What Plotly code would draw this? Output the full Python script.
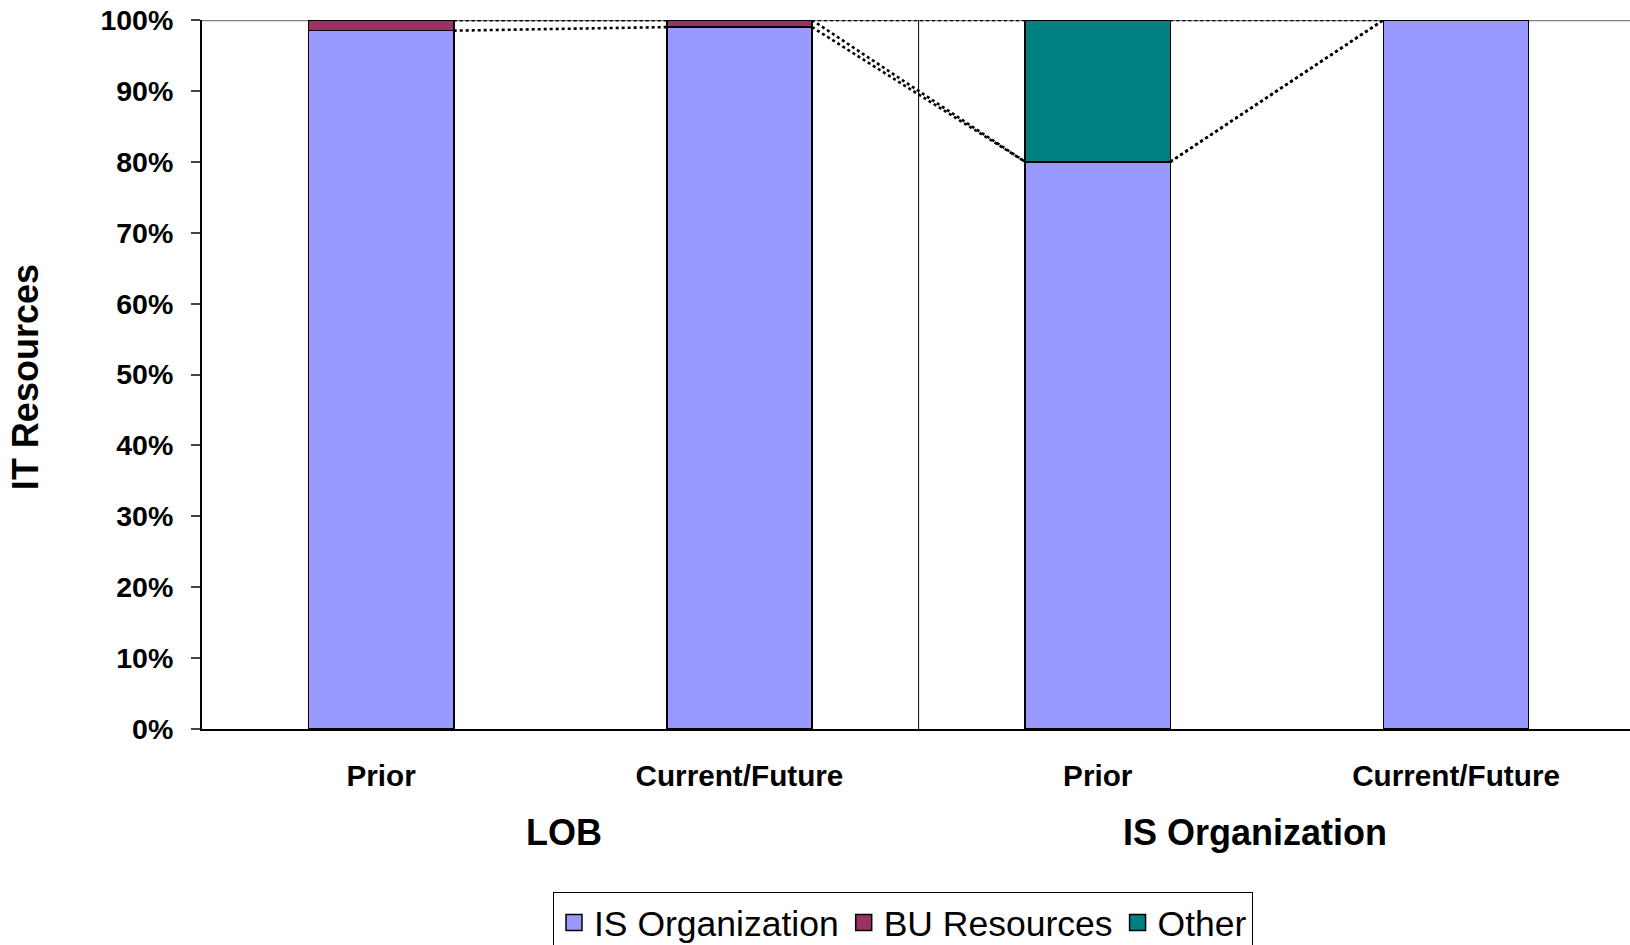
import plotly.graph_objects as go

# Share of IT resources by source, per organisation and period
periods = ["Prior", "Current/Future", "Prior", "Current/Future"]
groups = ["LOB", "IS Organization"]
series_names = ["IS Organization", "BU Resources", "Other"]
is_org = [98.5, 99.0, 80.0, 100.0]
bu_resources = [1.5, 1.0, 0.0, 0.0]
other = [0.0, 0.0, 20.0, 0.0]
y_ticks = [0, 10, 20, 30, 40, 50, 60, 70, 80, 90, 100]
y_tick_labels = [f"{v}%" for v in y_ticks]

colors = ["#9999FF", "#993366", "#008080"]
values = [is_org, bu_resources, other]

FONT = "Liberation Sans, Arial, sans-serif"
BAR_WIDTH = 0.405
xpos = list(range(len(periods)))

fig = go.Figure()

for name, vals, col in zip(series_names, values, colors):
    fig.add_trace(go.Bar(
        x=xpos, y=vals, name=name, legendgroup=name, showlegend=False,
        marker=dict(color=col, line=dict(color="#000000", width=1.6)),
        width=BAR_WIDTH,
    ))

# Series lines joining the top of each stacked segment between neighbouring bars
cum = []
running = [0.0] * len(periods)
for vals in values:
    running = [r + v for r, v in zip(running, vals)]
    cum.append(list(running))

lx, ly = [], []
for tops in cum:
    for i in range(len(periods) - 1):
        lx += [i + BAR_WIDTH / 2, i + 1 - BAR_WIDTH / 2, None]
        ly += [tops[i], tops[i + 1], None]
fig.add_trace(go.Scatter(
    x=lx, y=ly, mode="lines", showlegend=False, hoverinfo="skip",
    line=dict(color="#000000", width=2.6, dash="dot"),
))

# Legend entries with larger square swatches
for name, col in zip(series_names, colors):
    fig.add_trace(go.Scatter(
        x=[None], y=[None], mode="markers", name=name, legendgroup=name,
        marker=dict(symbol="square", size=16, color=col,
                    line=dict(color="#000000", width=1.5)),
    ))

# Group labels under the period labels
group_x = [0.51, 2.44]
for g, gx in zip(groups, group_x):
    fig.add_annotation(
        x=gx, xref="x", y=-0.1453, yref="paper", text=g, showarrow=False,
        xanchor="center", yanchor="middle",
        font=dict(family=FONT, size=36, color="#000000", weight="bold"),
    )

# Axis title
fig.add_annotation(
    x=-0.1236, xref="paper", y=0.497, yref="paper", text="IT Resources",
    textangle=-90, showarrow=False, xanchor="center", yanchor="middle",
    font=dict(family=FONT, size=36, color="#000000", weight="bold"),
)

# Group divider and top border of the plot area
fig.add_shape(type="line", xref="x", yref="paper", x0=1.5, x1=1.5, y0=0, y1=1,
              line=dict(color="#000000", width=1))
fig.add_shape(type="line", xref="paper", yref="y", x0=0, x1=1, y0=100, y1=100,
              line=dict(color="#808080", width=2.5), layer="below")

fig.update_layout(
    width=1630, height=945,
    margin=dict(l=202, r=0, t=20, b=216, autoexpand=False),
    paper_bgcolor="#FFFFFF", plot_bgcolor="#FFFFFF",
    barmode="stack",
    font=dict(family=FONT, color="#000000"),
    showlegend=True,
    legend=dict(
        orientation="h", x=0.2458, xanchor="left", y=-0.2299, yanchor="top",
        bordercolor="#000000", borderwidth=1, bgcolor="#FFFFFF",
        font=dict(family=FONT, size=35.5, color="#000000"),
        traceorder="normal",
    ),
    xaxis=dict(
        range=[-0.5, 3.4855], tickvals=xpos, ticktext=periods,
        showline=True, linecolor="#000000", linewidth=2,
        showgrid=False, zeroline=False, ticks="",
        tickfont=dict(family=FONT, size=29.7, color="#000000", weight="bold"),
        ticklabelstandoff=19,
    ),
    yaxis=dict(
        range=[0, 100], tickvals=y_ticks, ticktext=y_tick_labels,
        showline=True, linecolor="#000000", linewidth=2,
        showgrid=False, zeroline=False,
        ticks="outside", ticklen=9, tickwidth=2, tickcolor="#444444",
        tickfont=dict(family=FONT, size=28.5, color="#000000", weight="bold"),
        ticklabelstandoff=12,
    ),
)

fig.write_html("out.html")
